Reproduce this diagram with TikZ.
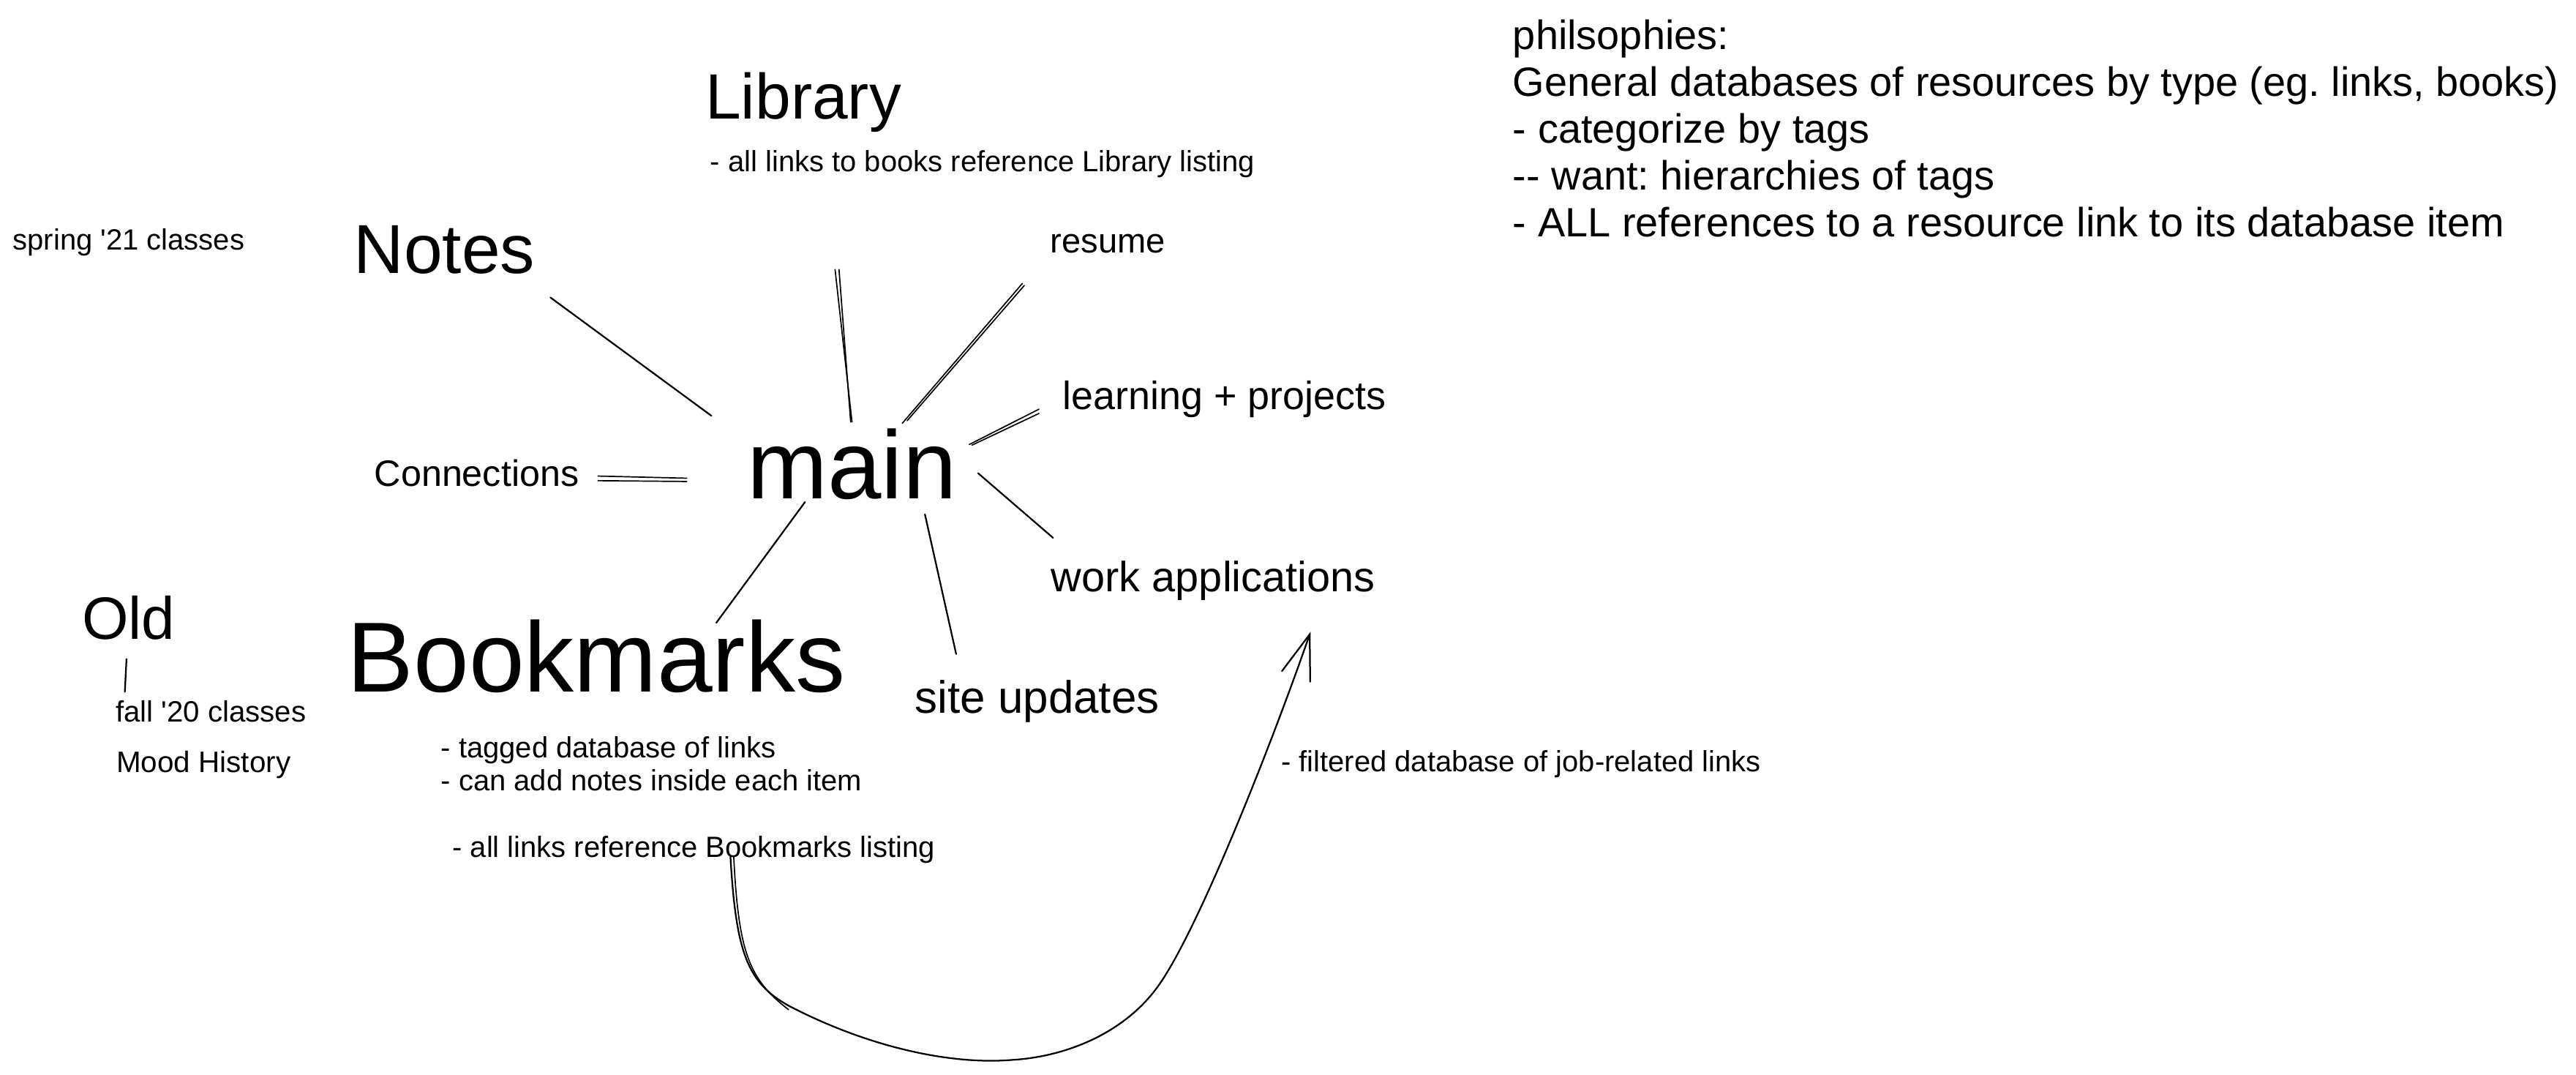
\documentclass[tikz,border=0pt]{standalone}
\usepackage{fontspec}
\setmainfont{Liberation Sans}[Ligatures=TeXOff]
\frenchspacing
\begin{document}
\begin{tikzpicture}[x=0.5pt,y=-0.5pt,
  txt/.style={inner sep=0pt, anchor=base west},
  fs/.style={font=\fontsize{#1}{#1}\selectfont},
  ln/.style={line width=0.5pt, line cap=round},
  lnthin/.style={line width=0.38pt, line cap=round}]
\useasboundingbox (0,0) rectangle (1568,654);

% ---------- text nodes ----------
\node[txt,fs=19.5] (library) at (429,72.5) {Library};
\node[txt,fs=8.9]  (libnote) at (432,104.5) {- all links to books reference Library listing};
\node[txt,fs=8.9]  (spring)  at (7.5,152) {spring '21 classes};
\node[txt,fs=21.1] (notes)   at (215,166.5) {Notes};
\node[txt,fs=10.5] (resume)  at (639,154) {resume};
\node[txt,fs=12]   (learn)   at (646.5,249) {learning + projects};
\node[txt,fs=11.2] (conn)    at (227.5,296) {Connections};
\node[txt,fs=29.4] (main)    at (454.5,303.5) {main};
\node[txt,fs=12.85] (work)   at (639.5,360) {work applications};
\node[txt,fs=18.2] (old)     at (49.5,389) {Old};
\node[txt,fs=30.3] (bookm)   at (211,421) {Bookmarks};
\node[txt,fs=13.8] (site)    at (556.5,434) {site updates};
\node[txt,fs=8.95] (fall)    at (70,439.5) {fall '20 classes};
\node[txt,fs=9]    (mood)    at (70.5,470) {Mood History};
\node[txt,fs=8.9]  (bm1)     at (268,461) {- tagged database of links};
\node[txt,fs=8.9]  (bm2)     at (268,481) {- can add notes inside each item};
\node[txt,fs=8.9]  (bm3)     at (275,521.5) {- all links reference Bookmarks listing};
\node[txt,fs=8.9]  (filt)    at (779.5,469.5) {- filtered database of job-related links};

\node[txt,fs=12.45] (ph1) at (920.5,30)    {philsophies:};
\node[txt,fs=12.45] (ph2) at (920.5,58.5)  {General databases of resources by type (eg. links, books)};
\node[txt,fs=12.45] (ph3) at (920.5,87)    {- categorize by tags};
\node[txt,fs=12.45] (ph4) at (920.5,115.5) {-- want: hierarchies of tags};
\node[txt,fs=12.45] (ph5) at (920.5,144)   {- ALL references to a resource link to its database item};

% ---------- connector end points ----------
\coordinate (notesE)  at (335,181);   \coordinate (mainNotes) at (433,253);
\coordinate (libE)    at (510.7,164); \coordinate (mainLib)   at (517.8,256.8);
\coordinate (resE)    at (623.5,173.7); \coordinate (mainRes) at (552.2,256);
\coordinate (learnE)  at (632.4,251.6); \coordinate (mainLearn) at (591.6,270.9);
\coordinate (connE)   at (364,292.5); \coordinate (mainConn)  at (418,293);
\coordinate (mainBm)  at (490,305.5); \coordinate (bmE)       at (436,379);
\coordinate (mainSite) at (563,313);  \coordinate (siteE)     at (582,398);
\coordinate (mainWork) at (595.4,288); \coordinate (workE)    at (641,327.3);
\coordinate (oldE)    at (77,401);    \coordinate (fallE)     at (76,421);
\coordinate (curveS)  at (444.6,521);
\coordinate (c1) at (480,612);
\coordinate (c2) at (616,645);
\coordinate (c3) at (705,600);
\coordinate (tip) at (797.2,386);
\coordinate (barbL) at (780.3,408.4);
\coordinate (barbR) at (797.5,414.9);

% ---------- connectors ----------
\draw[ln] (notesE) -- (mainNotes);
\draw[lnthin] (libE) -- (mainLib);
\draw[lnthin] ([xshift=-1.2]libE) -- ([xshift=0.4]mainLib);
\draw[lnthin] (resE) -- (mainRes);
\draw[lnthin] ([xshift=-0.6,yshift=0.6]resE) -- ([xshift=-1.5,yshift=-0.8]mainRes);
\draw[lnthin] (learnE) -- (mainLearn);
\draw[lnthin] ([yshift=1.3]learnE) -- ([xshift=-0.8,yshift=0.2]mainLearn);
\draw[lnthin] (connE) -- (mainConn);
\draw[lnthin] ([yshift=1.4]connE) -- ([yshift=1.0]mainConn);
\draw[ln] (mainBm) -- (bmE);
\draw[ln] (mainSite) -- (siteE);
\draw[ln] (mainWork) -- (workE);
\draw[ln] (oldE) -- (fallE);

\draw[ln] (curveS) .. controls (448,580) and (455,598) .. (c1)
          .. controls (530,638) and (580,648) .. (c2)
          .. controls (650,643) and (685,628) .. (c3)
          .. controls (730,565) and (775,450) .. (tip);
\draw[lnthin] ([xshift=1]curveS) .. controls (449.5,580) and (456,596) .. ([yshift=-1.2]c1);
\draw[ln] (barbL) -- (tip) -- (barbR);
\end{tikzpicture}
\end{document}
